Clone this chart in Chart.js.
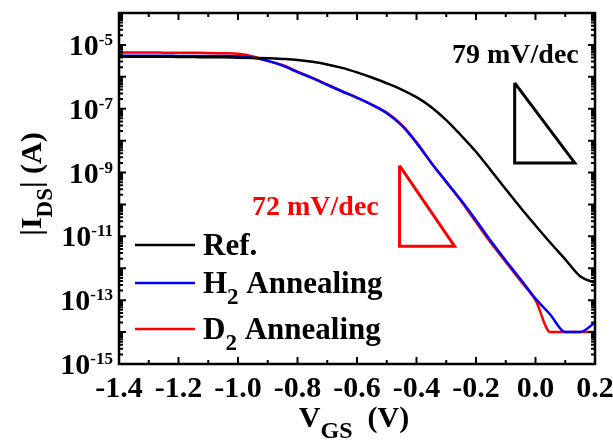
<!DOCTYPE html>
<html>
<head>
<meta charset="utf-8">
<script src="https://cdn.jsdelivr.net/npm/chart.js@4/dist/chart.umd.min.js"></script>
<style>
  html, body { margin: 0; padding: 0; background: #fff; }
</style>
</head>
<body>
<canvas id="idvg" width="613" height="441"></canvas>
<script>
// gate voltage (V)
const vgs = [-1.40, -1.35, -1.30, -1.25, -1.20, -1.15, -1.10, -1.05, -1.00, -0.95, -0.90,
  -0.85, -0.80, -0.75, -0.70, -0.65, -0.60, -0.55, -0.50, -0.45, -0.40, -0.35, -0.30,
  -0.25, -0.20, -0.15, -0.10, -0.05, 0.00, 0.05, 0.10, 0.15, 0.20];

// |Ids| (A)
const idsRef = [4.27e-6, 4.27e-6, 4.27e-6, 4.27e-6, 4.17e-6, 4.17e-6, 4.07e-6, 4.07e-6, 3.98e-6, 3.89e-6, 3.80e-6,
  3.63e-6, 3.39e-6, 2.95e-6, 2.45e-6, 1.91e-6, 1.38e-6, 9.5e-7, 6.3e-7, 4.0e-7, 2.3e-7, 1.12e-7, 4.4e-8,
  1.45e-8, 4.5e-9, 1.17e-9, 3.0e-10, 7.9e-11, 2.2e-11, 6.3e-12, 1.9e-12, 5.6e-13, 3.5e-13];
const idsH2 = [4.57e-6, 4.57e-6, 4.57e-6, 4.55e-6, 4.52e-6, 4.5e-6, 4.5e-6, 4.47e-6, 4.4e-6, 3.98e-6, 3.16e-6,
  2.24e-6, 1.41e-6, 9.1e-7, 5.6e-7, 3.47e-7, 2.19e-7, 1.32e-7, 7.2e-8, 3.0e-8, 8.5e-9, 2.0e-9, 5.2e-10,
  1.35e-10, 3.2e-11, 7.1e-12, 1.74e-12, 4.5e-13, 1.12e-13, 3.5e-14, 1e-14, 1e-14, 2e-14];
const idsD2 = [5.75e-6, 5.75e-6, 5.75e-6, 5.72e-6, 5.69e-6, 5.65e-6, 5.62e-6, 5.5e-6, 5.25e-6, 4.37e-6, 3.16e-6,
  2.34e-6, 1.45e-6, 9.3e-7, 5.75e-7, 3.55e-7, 2.24e-7, 1.35e-7, 7.6e-8, 3.16e-8, 8.9e-9, 2.0e-9, 5.0e-10,
  1.26e-10, 2.8e-11, 6.3e-12, 1.58e-12, 4.0e-13, 1.0e-13, 1e-14, 1e-14, 1e-14, 1e-14];

// slope triangles (data coords)
const tri79X = [-0.07, -0.07, 0.132, -0.07];
const tri79Y = [6.5e-7, 2e-9, 2e-9, 6.5e-7];
const tri72X = [-0.457, -0.457, -0.272, -0.457];
const tri72Y = [1.65e-9, 4.9e-12, 4.9e-12, 1.65e-9];

// tick labels
const xTicks = [-1.4, -1.2, -1.0, -0.8, -0.6, -0.4, -0.2, 0.0, 0.2];
const yTickExps = [-15, -13, -11, -9, -7, -5];

const serif = '"Liberation Serif", "Times New Roman", serif';
const pts = (xs, ys) => xs.map((x, i) => ({ x: x, y: ys[i] }));

// text with subscript parts: [[text, sub?], ...]
const drawRich = (ctx, parts, x, y, size, subScale) => {
  let cx = x;
  parts.forEach(([t, sub]) => {
    const s = sub ? Math.round(size * subScale) : size;
    ctx.font = `bold ${s}px ${serif}`;
    ctx.fillText(t, cx, sub ? y + size * 0.36 : y);
    cx += ctx.measureText(t).width;
  });
  return cx - x;
};
const richWidth = (ctx, parts, size, subScale) => {
  let w = 0;
  parts.forEach(([t, sub]) => {
    ctx.font = `bold ${sub ? Math.round(size * subScale) : size}px ${serif}`;
    w += ctx.measureText(t).width;
  });
  return w;
};

const legendItems = [
  { parts: [["Ref.", false]], color: "#000000", y: 245 },
  { parts: [["H", false], ["2", true], [" Annealing", false]], color: "#0000ff", y: 283 },
  { parts: [["D", false], ["2", true], [" Annealing", false]], color: "#ff0000", y: 329 },
];

const framePlugin = {
  id: "frame",
  afterDraw(chart) {
    const { ctx, chartArea: a, scales: { x, y } } = chart;
    ctx.save();
    ctx.strokeStyle = "#000";
    ctx.fillStyle = "#000";

    // ticks, inward on all four sides
    ctx.lineWidth = 2;
    ctx.beginPath();
    for (let v = -14; v <= 2; v++) {
      const px = x.getPixelForValue(v / 10);
      const len = v % 2 === 0 ? 7 : 4;
      ctx.moveTo(px, a.bottom); ctx.lineTo(px, a.bottom - len);
      ctx.moveTo(px, a.top); ctx.lineTo(px, a.top + len);
    }
    for (let e = -15; e <= -4; e++) {
      const py = y.getPixelForValue(Math.pow(10, e));
      ctx.moveTo(a.left, py); ctx.lineTo(a.left + 7, py);
      ctx.moveTo(a.right, py); ctx.lineTo(a.right - 7, py);
      if (e < -4) {
        for (let m = 2; m <= 9; m++) {
          const pm = y.getPixelForValue(m * Math.pow(10, e));
          ctx.moveTo(a.left, pm); ctx.lineTo(a.left + 4, pm);
          ctx.moveTo(a.right, pm); ctx.lineTo(a.right - 4, pm);
        }
      }
    }
    ctx.stroke();

    // frame
    ctx.lineWidth = 2.5;
    ctx.strokeRect(a.left, a.top, a.right - a.left, a.bottom - a.top);

    // x tick labels
    ctx.font = `bold 30px ${serif}`;
    ctx.textAlign = "center";
    ctx.textBaseline = "alphabetic";
    xTicks.forEach((v) => {
      ctx.fillText(v.toFixed(1), x.getPixelForValue(v), a.bottom + 33);
    });

    // y tick labels 10^n
    ctx.textAlign = "left";
    yTickExps.forEach((e) => {
      const py = y.getPixelForValue(Math.pow(10, e));
      ctx.font = `bold 17px ${serif}`;
      const sup = "-" + Math.abs(e);
      const sw = ctx.measureText(sup).width;
      const supX = a.left - 6 - sw;
      ctx.fillText(sup, supX, py);
      ctx.font = `bold 30px ${serif}`;
      const bw = ctx.measureText("10").width;
      ctx.fillText("10", supX - bw, py + 10);
    });

    // axis titles
    const xt = [["V", false], ["GS", true], ["  (V)", false]];
    const xw = richWidth(ctx, xt, 30, 0.8);
    drawRich(ctx, xt, 354 - xw / 2, a.bottom + 63, 30, 0.8);

    const yt = [["|I", false], ["DS", true], ["| (A)", false]];
    const yw = richWidth(ctx, yt, 30, 0.75);
    ctx.save();
    ctx.translate(41, 184);
    ctx.rotate(-Math.PI / 2);
    drawRich(ctx, yt, -yw / 2, 0, 30, 0.75);
    ctx.restore();

    // legend
    legendItems.forEach((it) => {
      ctx.strokeStyle = it.color;
      ctx.lineWidth = 2.5;
      ctx.beginPath();
      ctx.moveTo(135, it.y);
      ctx.lineTo(195, it.y);
      ctx.stroke();
      ctx.fillStyle = "#000";
      drawRich(ctx, it.parts, 203, it.y + 10, 31, 0.75);
    });

    // slope labels
    ctx.font = `bold 28px ${serif}`;
    ctx.fillStyle = "#000";
    ctx.fillText("79 mV/dec", 452, 63);
    ctx.fillStyle = "#ff0000";
    ctx.fillText("72 mV/dec", 252, 215);

    ctx.restore();
  },
};

const lineDs = (label, data, color) => ({
  label: label,
  data: pts(vgs, data),
  borderColor: color,
  backgroundColor: color,
  borderWidth: 2.5,
  pointRadius: 0,
  cubicInterpolationMode: "monotone",
});

new Chart(document.getElementById("idvg"), {
  type: "line",
  data: {
    datasets: [
      lineDs("Ref.", idsRef, "#000000"),
      lineDs("H2 Annealing", idsH2, "#0000ff"),
      lineDs("D2 Annealing", idsD2, "#ff0000"),
      { label: "tri79", data: pts(tri79X, tri79Y), borderColor: "#000000", borderWidth: 3, pointRadius: 0, tension: 0 },
      { label: "tri72", data: pts(tri72X, tri72Y), borderColor: "#ff0000", borderWidth: 3, pointRadius: 0, tension: 0 },
    ],
  },
  options: {
    responsive: false,
    animation: false,
    devicePixelRatio: 1,
    layout: { padding: { left: 119, right: 18, top: 13, bottom: 77 } },
    plugins: {
      legend: { display: false },
      tooltip: { enabled: false },
    },
    scales: {
      x: { type: "linear", min: -1.4, max: 0.2, display: false },
      y: { type: "logarithmic", min: 1e-15, max: 1e-4, display: false },
    },
  },
  plugins: [framePlugin],
});
</script>
</body>
</html>
